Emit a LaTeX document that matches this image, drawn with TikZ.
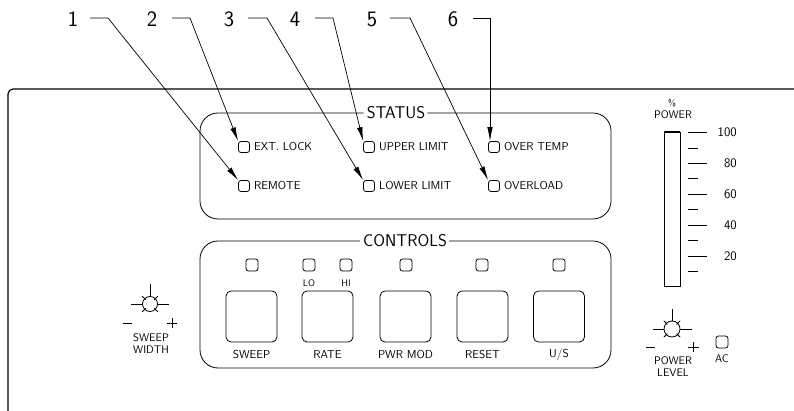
\documentclass[tikz,border=0pt]{standalone}
\usepackage{fontspec}
\renewcommand{\familydefault}{\sfdefault}
\usetikzlibrary{arrows.meta}
\tikzset{
  ln/.style={line width=0.8pt, black},
  callout/.style={line width=0.7pt, -{Latex[length=14pt,width=5.5pt]}},
  led/.style={draw, line width=0.8pt, rectangle, rounded corners=2.5pt, minimum width=11pt, minimum height=11pt, inner sep=0pt},
  cled/.style={led, minimum width=12pt, minimum height=12pt},
  btn/.style={draw, line width=0.8pt, rectangle, rounded corners=5pt, minimum size=51pt, inner sep=0pt},
  num/.style={inner sep=0pt, font=\fontsize{22}{22}\selectfont},
  ttl/.style={inner sep=0pt, font=\fontsize{17}{17}\selectfont\addfontfeature{LetterSpace=8}},
  lbl/.style={inner sep=0pt, anchor=west, font=\fontsize{11.5}{11.5}\selectfont\addfontfeature{LetterSpace=6}},
  clbl/.style={inner sep=0pt, font=\fontsize{11.5}{11.5}\selectfont\addfontfeature{LetterSpace=6}},
  small/.style={inner sep=0pt, font=\fontsize{9.5}{9.5}\selectfont\addfontfeature{LetterSpace=8}},
  mid/.style={inner sep=0pt, font=\fontsize{11}{11}\selectfont\addfontfeature{LetterSpace=8}},
  scl/.style={inner sep=0pt, anchor=east, font=\fontsize{13}{13}\selectfont},
  knob/.pic={
    \draw[ln] (0,0) circle (#1);
    \draw[ln] (0,-#1) -- (0,-#1-12);
    \draw[ln] (-#1,0) -- (-#1-11.5,0);
    \draw[ln] (#1,0) -- (#1+11.5,0);
    \foreach \a in {45,135,225,315} \draw[ln] (\a:#1-1.5) -- (\a:#1+3.5);
  }
}
\begin{document}
\begin{tikzpicture}[x=1pt,y=-1pt]
\useasboundingbox (0,0) rectangle (794,411);
% panel outline
\draw[line width=1.2pt, rounded corners=5pt] (800,89) -- (8,89) -- (8,420);

% STATUS box
\node[ttl] (status) at (396,113) {STATUS};
\draw[ln, rounded corners=18pt] (status.west) ++(-3,0) -- (200,113) -- (200,219) -- (611,219) -- (611,113) -- ([xshift=2pt]status.east);

\node[led] (extlock) at (244,147) {};
\node[led] (remote) at (244,186) {};
\node[led] (upper) at (369,147) {};
\node[led] (lower) at (369,186) {};
\node[led] (overtemp) at (494,147) {};
\node[led] (overload) at (494,186) {};
\node[lbl] (lextlock) at (254,147) {EXT. LOCK};
\node[lbl] (lremote) at (254,186) {REMOTE};
\node[lbl] (lupper) at (379,147) {UPPER LIMIT};
\node[lbl] (llower) at (379,186) {LOWER LIMIT};
\node[lbl] (lovertemp) at (504,147) {OVER TEMP};
\node[lbl] (loverload) at (504,186) {OVERLOAD};

% callouts
\node[num] (n1) at (73,19) {1};
\node[num] (n2) at (152,19) {2};
\node[num] (n3) at (229,19) {3};
\node[num] (n4) at (295,19) {4};
\node[num] (n5) at (372,19) {5};
\node[num] (n6) at (453,19) {6};
\coordinate (s1) at (90,18);  \coordinate (e1) at (108,18);
\coordinate (s2) at (172,18); \coordinate (e2) at (190,18);
\coordinate (s3) at (248,18); \coordinate (e3) at (267,18);
\coordinate (s4) at (315,18); \coordinate (e4) at (333,18);
\coordinate (s5) at (390,18); \coordinate (e5) at (410,18);
\coordinate (s6) at (473,18); \coordinate (e6) at (490,18);
\draw[callout] (s1) -- (e1) -- (remote.north west);
\draw[callout] (s2) -- (e2) -- (extlock.north west);
\draw[callout] (s3) -- (e3) -- (lower.north west);
\draw[callout] (s4) -- (e4) -- (upper.north west);
\draw[callout] (s5) -- (e5) -- (overload.north west);
\draw[callout] (s6) -- (e6) -- (overtemp.north west -| e6);

% CONTROLS box
\node[ttl] (controls) at (405,241) {CONTROLS};
\draw[ln, rounded corners=18pt] (controls.west) ++(-3,0) -- (200,241) -- (200,368) -- (611,368) -- (611,241) -- ([xshift=2pt]controls.east);

\node[cled] (c1) at (252,265) {};
\node[cled] (c2) at (309,265) {};
\node[cled] (c3) at (346,265) {};
\node[cled] (c4) at (406,265) {};
\node[cled] (c5) at (482,265) {};
\node[cled] (c6) at (559,265) {};
\node[small] (lo) at (309,283) {LO};
\node[small] (hi) at (346,283) {HI};

\node[btn] (b1) at (251.5,316.5) {};
\node[btn] (b2) at (327.5,316.5) {};
\node[btn] (b3) at (405.5,316.5) {};
\node[btn] (b4) at (482.5,316.5) {};
\node[btn] (b5) at (559,316.5) {};
\node[clbl] (t1) at (251.5,355) {SWEEP};
\node[clbl] (t2) at (327.5,355) {RATE};
\node[clbl] (t3) at (405.5,355) {PWR MOD};
\node[clbl] (t4) at (482.5,355) {RESET};
\node[clbl] (t5) at (559,355) {U/S};

% sweep width knob
\pic at (150,304) {knob=7.5};
\draw[ln] (123,323) -- (132,323);
\draw[ln] (167,323) -- (177,323) (172,318) -- (172,328);
\node[mid] (sw1) at (151,338) {SWEEP};
\node[mid] (sw2) at (151,349.5) {WIDTH};

% power meter
\node[small] (pct) at (672,103) {\%};
\node[mid] (pw) at (673,115) {POWER};
\draw[ln] (664,132) rectangle (680,286);
\draw[line width=1.6pt] (664,132) -- (680,132);
\foreach \y/\t in {132/100,163/80,194/60,225/40,256/20} {
  \draw[ln] (688,\y) -- (707,\y);
  \node[scl] at (737,\y) {\t};
}
\foreach \y in {148,178,209,240,271} \draw[ln] (688,\y) -- (698,\y);

% power level knob
\pic at (672,329) {knob=8};
\draw[ln] (646,347) -- (655,347);
\draw[ln] (688,347) -- (699,347) (693.5,342) -- (693.5,352);
\node[mid] (pl1) at (673,361) {POWER};
\node[mid] (pl2) at (673,373) {LEVEL};
\node[cled] (ac) at (722,342) {};
\node[mid] (aclbl) at (722,359) {AC};
\end{tikzpicture}
\end{document}
